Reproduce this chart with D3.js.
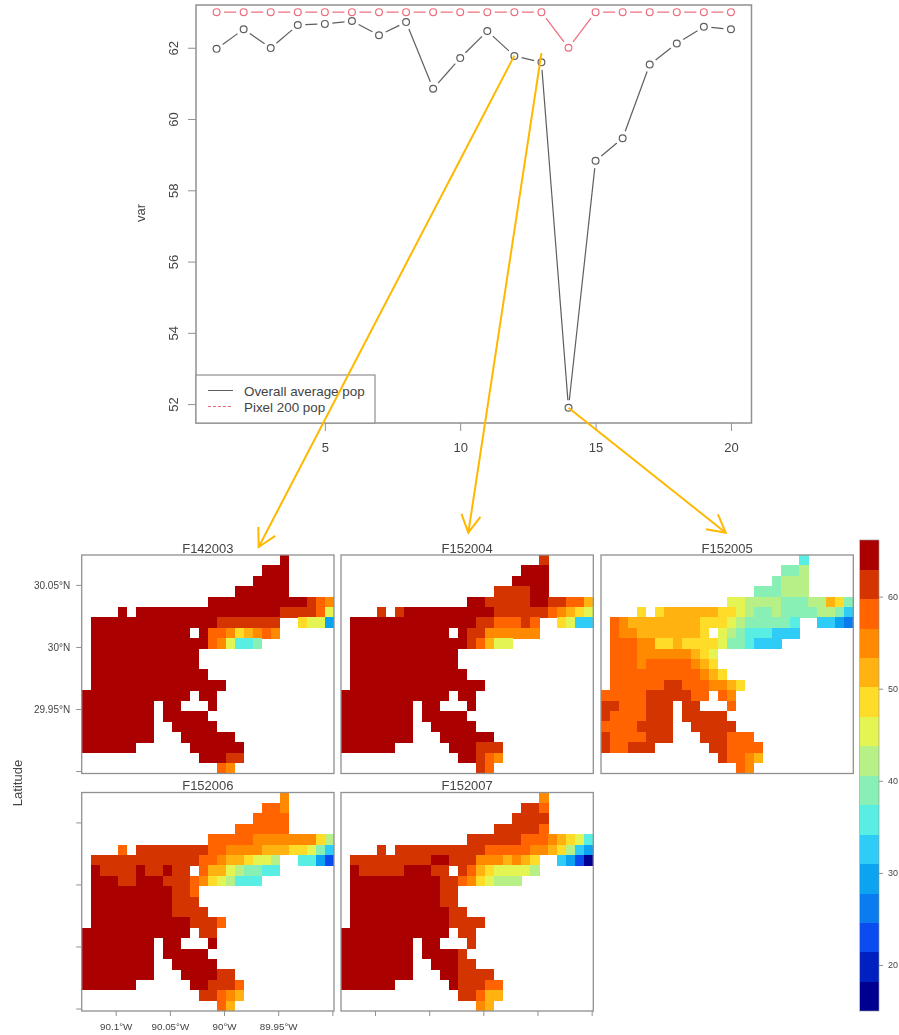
<!DOCTYPE html>
<html><head><meta charset="utf-8">
<script src="https://cdn.jsdelivr.net/npm/d3@7"></script>
<style>
html,body{margin:0;padding:0;background:#fff}
svg{display:block}
text{font-family:"Liberation Sans",Arial,sans-serif}
</style></head><body>
<svg id="c" width="899" height="1035"></svg>
<script>
// ---------- line chart data ----------
const timeSteps = [1,2,3,4,5,6,7,8,9,10,11,12,13,14,15,16,17,18,19,20];
const overallAverage = [61.97,62.52,61.99,62.64,62.67,62.75,62.35,62.72,60.85,61.71,62.47,61.77,61.59,51.9,58.83,59.46,61.53,62.12,62.59,62.52];
const pixel200 = [63,63,63,63,63,63,63,63,63,63,63,63,63,62,63,63,63,63,63,63];
const yTicks = [52,54,56,58,60,62];
const xTicks = [5,10,15,20];
const legendLabels = ["Overall average pop","Pixel 200 pop"];

// ---------- map data: "startColumn:bandCodes", one band code per cell, "." = no data ----------
const panelNames = ["F142003","F152004","F152005","F152006","F152007"];
const F142003 = ["22:f","20:fff","19:ffff","17:ffffff","14:fffffffffffedc","4:f.ffffffffffffffffeeeed9",
"1:ffffffffffffffeeeeeee..a994","1:fffffffffff.fddcabcdc","1:fffffffffffffdc9667","1:ffffffffffff","1:ffffffffffff",
"1:fffffffffffff","1:fffffffffffffff","0:ffffffffffff.ff","0:ffffffff.ff...f","0:ffffffff.fffff","0:ffffffff..fffff",
"0:ffffffff...ffffff","0:ffffff......ffffff","13:fffee","15:dc"];
const F152004 = ["22:e","20:fff","19:ffff","17:eeeeff","14:ffeeeeeffeeddb","4:e.effffffffffeeeeeedcba9",
"1:ffffffffffffffeeddded..a955","1:fffffffffff.feecccccc","1:fffffffffffffedb99","1:ffffffffffff","1:ffffffffffff",
"1:fffffffffffff","1:fffffffffffffff","0:ffffffffffff.ff","0:ffffffff.ff...f","0:ffffffff.fffff","0:ffffffff..fffff",
"0:ffffffff...ffffff","0:ffffff......fffeee","13:ffedc","15:ed"];
const F152005 = ["22:6","20:778","19:7888","17:777888","14:99888877788ba7","4:a.abbbbbbaa9877877778875",
"1:dcbbbbbbbbaaa98777776..5543","1:dccbbbbbbba.987666555","1:dddccaabaaaa9776555","1:dddccccccba9","1:dddcdddddcba",
"1:ddddddddddcba","1:ddddddeedddccba","0:dddddeeeeedd.dc","0:eedddeee.ee...d","0:eddddeee.eeeee","0:ddddeeee..eeeee",
"0:eddddeee...eeeddd","0:eddeee......eedddd","13:eddcb","15:dc"];
const F152006 = ["22:c","20:ddc","19:dddd","17:dddddd","14:dddddccccccca8","4:d.eeeeeeeeddccccbbbaa975",
"1:eeeeeeeeeeeeddcbba998..6642","1:feeeefeefee.dbb987766","1:fffeefffeeedca98666","1:fffffffffeed","1:fffffffffeee",
"1:fffffffffeeee","1:fffffffffffeeed","0:ffffffffffff.ee","0:ffffffff.ff...f","0:ffffffff.fffff","0:ffffffff..fffff",
"0:ffffffff...ffffee","0:ffffff......ffeeed","13:eedcb","15:db"];
const F152007 = ["22:c","20:eed","19:eeee","17:eeeeed","14:eeeeeedddcba96","4:e.eeeeeeeeeedddddccba854",
"1:eeeeeeeeeffeeecccbcba..5420","1:feeeeefffee.edba99998","1:ffffffffffeedca9888","1:ffffffffffee","1:ffffffffffee",
"1:fffffffffffee","1:fffffffffffeeee","0:ffffffffffff.ee","0:ffffffff.ff...e","0:ffffffff.ffffe","0:ffffffff..fffee",
"0:ffffffff...ffeeee","0:ffffff......feeedd","13:eedbb","15:cb"];
const panelRows = [F142003,F152004,F152005,F152006,F152007];
const bandCodes = "0123456789abcdef";
const bandColors = ["#000090","#0020c0","#0a4cf0","#0a7cf0","#0ca4f0","#30ccf8","#58eee4","#88f0b4","#b8f088","#e4f452","#ffdc28","#ffb210","#ff8a00","#ff6400","#d43400","#aa0000"];
const legendTicks = [20,30,40,50,60];
const lonTicks = [-90.1,-90.05,-90,-89.95,-89.9];
const latTicks = [29.9,29.95,30,30.05];
const lonLabels = ["90.1°W","90.05°W","90°W","89.95°W",""];
const latLabels = ["","29.95°N","30°N","30.05°N"];

const svg = d3.select("#c");
const ink = "#444", frame = "#909090";
const fontFam = '"Liberation Sans",Arial,sans-serif';
const blackLine = "#5e5e5e", redLine = "#ee6a7a";

// ---------- line chart ----------
const L = {l:196,r:751.5,t:5,b:423};
const x = d3.scaleLinear().domain([0.24,20.76]).range([L.l,L.r]);
const y = d3.scaleLinear().domain([51.47,63.2]).range([L.b,L.t]);
const upper = svg.append("g");
upper.append("rect").attr("x",L.l).attr("y",L.t).attr("width",L.r-L.l).attr("height",L.b-L.t)
  .attr("fill","none").attr("stroke",frame).attr("stroke-width",1.5);

const xAx = upper.append("g").attr("transform",`translate(0,${L.b})`)
  .call(d3.axisBottom(x).tickValues(xTicks).tickSize(8).tickPadding(12).tickFormat(d3.format("d")));
const yAx = upper.append("g").attr("transform",`translate(${L.l},0)`)
  .call(d3.axisLeft(y).tickValues(yTicks).tickSize(8).tickPadding(8).tickFormat(d3.format("d")));
[xAx,yAx].forEach(a=>{a.select(".domain").remove();
  a.selectAll("line").attr("stroke",frame).attr("stroke-width",1);
  a.selectAll("text").attr("fill",ink).attr("font-size",13).attr("font-family",fontFam);});
yAx.selectAll("text").attr("text-anchor","middle").attr("dy",0).attr("x",0).attr("y",0)
  .attr("transform","translate(-18,0) rotate(-90)");
upper.append("text").attr("transform","translate(145,213) rotate(-90)").attr("text-anchor","middle")
  .attr("font-size",13).attr("fill",ink).text("var");

function typeB(g,vals,col){
  const pts = timeSteps.map((t,i)=>[x(t),y(vals[i])]);
  const gap = 7.5;
  d3.pairs(pts).forEach(([a,b])=>{
    const dx=b[0]-a[0],dy=b[1]-a[1],d=Math.hypot(dx,dy);
    if(d<=2*gap) return;
    g.append("line").attr("x1",a[0]+dx/d*gap).attr("y1",a[1]+dy/d*gap)
      .attr("x2",b[0]-dx/d*gap).attr("y2",b[1]-dy/d*gap)
      .attr("stroke",col).attr("stroke-width",1.2);
  });
  g.selectAll("circle").data(pts).join("circle").attr("cx",d=>d[0]).attr("cy",d=>d[1]).attr("r",3.4)
    .attr("fill","none").attr("stroke",col).attr("stroke-width",1.2);
}
typeB(upper.append("g"),overallAverage,blackLine);
typeB(upper.append("g"),pixel200,redLine);

// legend
const lg = upper.append("g");
lg.append("rect").attr("x",L.l).attr("y",375).attr("width",179).attr("height",L.b-375)
  .attr("fill","#fff").attr("stroke",frame).attr("stroke-width",1.2);
legendLabels.forEach((t,i)=>{
  const yy = 390.5+i*16;
  lg.append("line").attr("x1",208).attr("x2",233).attr("y1",yy).attr("y2",yy)
    .attr("stroke",i?redLine:blackLine).attr("stroke-width",1).attr("stroke-dasharray",i?"3 2":null);
  lg.append("text").attr("x",244).attr("y",yy+5.5).attr("font-size",13.4).attr("fill",ink).text(t);
});

// ---------- maps ----------
const panelW = 252.3, panelH = 218.5;
const panelPos = [[81.7,555],[341,555],[601,555],[81.7,792.5],[341,792.5]];
const colScale = d3.scaleBand().domain(d3.range(28)).range([0,panelW]);
const rowScale = d3.scaleBand().domain(d3.range(21)).range([0,panelH]);
const valueDomain = [15,66.15];
const colorScale = d3.scaleQuantize().domain(valueDomain).range(bandColors);
const bandValue = c => d3.mean(colorScale.invertExtent(bandColors[bandCodes.indexOf(c)]));
const lonScale = d3.scaleLinear().domain([-90.1314,-89.8985]).range([0,panelW]);
const latScale = d3.scaleLinear().domain([29.898,30.0741]).range([panelH,0]);

function cellsOf(rows){
  const out=[];
  rows.forEach((s,r)=>{
    const [st,codes]=s.split(":");
    [...codes].forEach((c,i)=>{ if(c!==".") out.push({r,c:+st+i,v:bandValue(c)}); });
  });
  return out;
}
const maps = svg.append("g").attr("class","maps");
panelNames.forEach((name,i)=>{
  const [px,py]=panelPos[i];
  const g = maps.append("g").attr("transform",`translate(${px},${py})`);
  g.selectAll("rect.cell").data(cellsOf(panelRows[i])).join("rect").attr("class","cell")
    .attr("x",d=>colScale(d.c)).attr("y",d=>rowScale(d.r))
    .attr("width",colScale.bandwidth()+0.3).attr("height",rowScale.bandwidth()+0.3)
    .attr("fill",d=>colorScale(d.v)).attr("shape-rendering","crispEdges");
  g.append("rect").attr("width",panelW).attr("height",panelH).attr("fill","none")
    .attr("stroke",frame).attr("stroke-width",1.3);
  g.append("text").attr("x",panelW/2).attr("y",-2.5).attr("text-anchor","middle")
    .attr("font-size",13).attr("fill",ink).text(name);
  if(i===0||i===3){
    const a=g.append("g").call(d3.axisLeft(latScale).tickValues(latTicks).tickSize(5.5).tickPadding(6)
      .tickFormat((d,k)=>i===0?latLabels[k]:""));
    a.select(".domain").remove();
    a.selectAll("line").attr("stroke",frame);
    a.selectAll("text").attr("fill",ink).attr("font-size",10).attr("font-family",fontFam);
  }
  if(i>=3){
    const a=g.append("g").attr("transform",`translate(0,${panelH})`)
      .call(d3.axisBottom(lonScale).tickValues(lonTicks).tickSize(5).tickPadding(7)
      .tickFormat((d,k)=>i===3?lonLabels[k]:""));
    a.select(".domain").remove();
    a.selectAll("line").attr("stroke",frame);
    a.selectAll("text").attr("fill",ink).attr("font-size",9.8).attr("font-family",fontFam);
  }
});
svg.append("text").attr("transform","translate(22,783) rotate(-90)").attr("text-anchor","middle")
  .attr("font-size",13).attr("fill",ink).text("Latitude");

// ---------- colour key ----------
const keyY = d3.scaleLinear().domain(valueDomain).range([1011,540]);
const key = svg.append("g");
key.selectAll("rect").data(bandColors).join("rect")
  .attr("x",859.5).attr("width",19.5)
  .attr("y",d=>keyY(colorScale.invertExtent(d)[1]))
  .attr("height",d=>keyY(colorScale.invertExtent(d)[0])-keyY(colorScale.invertExtent(d)[1])+0.3)
  .attr("fill",d=>d).attr("shape-rendering","crispEdges");
key.append("rect").attr("x",859.5).attr("y",540).attr("width",19.5).attr("height",471)
  .attr("fill","none").attr("stroke",frame).attr("stroke-width",0.6);
const ka = key.append("g").attr("transform","translate(879,0)")
  .call(d3.axisRight(keyY).tickValues(legendTicks).tickSize(4).tickPadding(5).tickFormat(d3.format("d")));
ka.select(".domain").remove();
ka.selectAll("line").attr("stroke",frame);
ka.selectAll("text").attr("fill",ink).attr("font-size",9).attr("font-family",fontFam);

// ---------- annotation arrows: line-chart point -> map panel title ----------
const arrowSpecs = [
  {t:12,v:61.78,panel:0,dx:0.7015,dy:-8},
  {t:13,v:61.85,panel:1,dx:0.5046,dy:-22.3},
  {t:14,v:51.9,panel:2,dx:0.4942,dy:-22.3}
];
const arrows = svg.append("g").attr("stroke","#ffb800").attr("stroke-width",2).attr("fill","none");
arrowSpecs.forEach(s=>{
  const [px,py]=panelPos[s.panel];
  const x0=x(s.t),y0=y(s.v),x1=px+panelW*s.dx,y1=py+s.dy;
  arrows.append("line").attr("x1",x0).attr("y1",y0).attr("x2",x1).attr("y2",y1);
  const ang=Math.atan2(y1-y0,x1-x0),len=20,spread=0.5;
  const head=[ang+Math.PI-spread,ang+Math.PI+spread].map(a=>[x1+Math.cos(a)*len,y1+Math.sin(a)*len]);
  arrows.append("polyline").attr("points",`${head[0]} ${x1},${y1} ${head[1]}`);
});
svg.style("filter","blur(0.6px)");
</script>
</body></html>
